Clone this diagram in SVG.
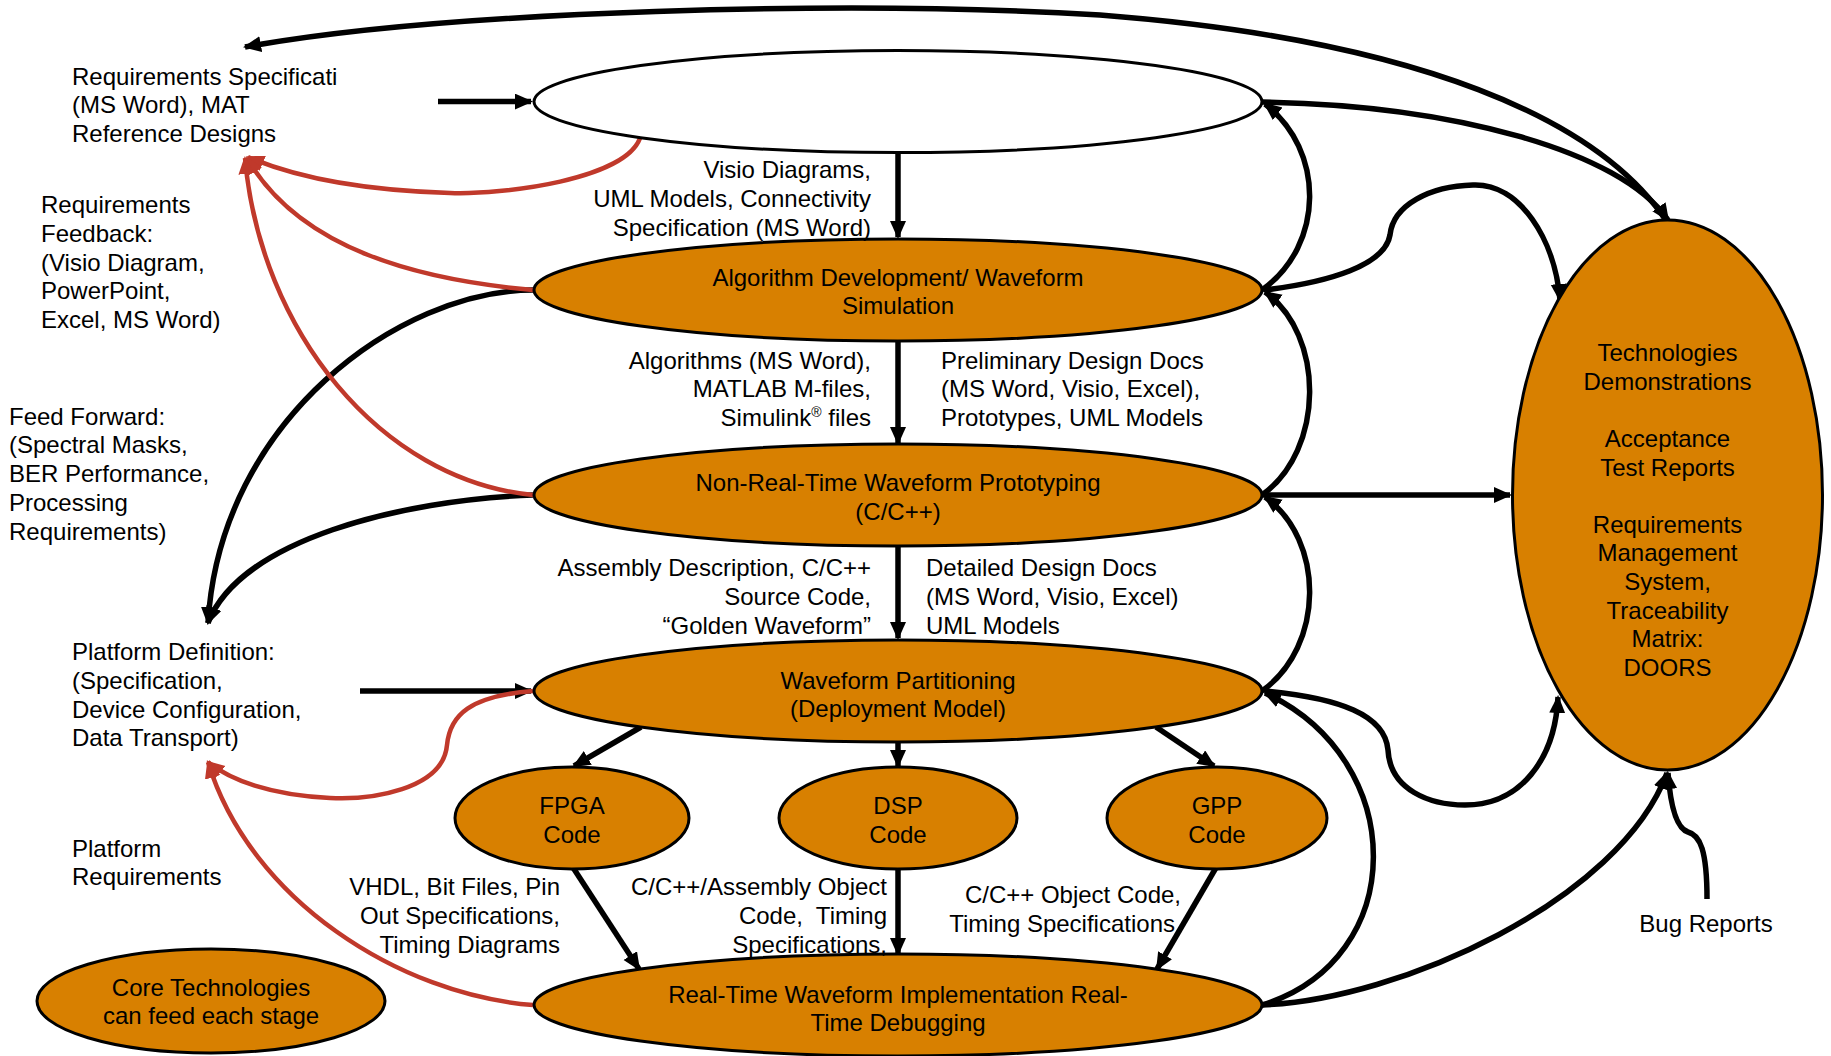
<svg xmlns="http://www.w3.org/2000/svg" width="1831" height="1056" viewBox="0 0 1831 1056">
<defs>
<style>
.t{font-family:"Liberation Sans",Arial,sans-serif;font-size:24px;fill:#000}
.m{text-anchor:middle}
.e{text-anchor:end}
.node{fill:#D88000;stroke:#000;stroke-width:3}
.wnode{fill:#fff;stroke:#000;stroke-width:3}
.c{fill:none;stroke:#000;stroke-width:5.5;marker-end:url(#ab)}
.r{fill:none;stroke:#C0392B;stroke-width:4.5;marker-end:url(#ar)}
</style>
<marker id="ab" markerUnits="userSpaceOnUse" markerWidth="20" markerHeight="18" refX="16" refY="8" orient="auto-start-reverse">
<path d="M0,0 L18,8 L0,16 z" fill="#000"/>
</marker>
<marker id="ar" markerUnits="userSpaceOnUse" markerWidth="20" markerHeight="18" refX="16" refY="8" orient="auto">
<path d="M0,0 L18,8 L0,16 z" fill="#C0392B"/>
</marker>
</defs>
<rect width="1831" height="1056" fill="#fff"/>

<g id="connectors">
<path class="c" d="M1667 222 C1600 120 1420 40 1100 15 C850 0 450 10 245 47"/>
<path class="c" d="M1262 102 C1450 105 1620 150 1668 220"/>
<path class="c" d="M438 101.6 L531 101.6"/>
<path class="c" d="M898 147 L898 237"/>
<path class="c" d="M898 339 L898 443"/>
<path class="c" d="M898 546 L898 638"/>
<path class="c" d="M898 738 L898 766"/>
<path class="c" d="M898 866 L898 954"/>
<path class="c" d="M641 727 L574 766"/>
<path class="c" d="M1156 727 L1214 766"/>
<path class="c" d="M572 866 L639 969"/>
<path class="c" d="M1217 866 L1157 969"/>
<path class="c" d="M1262 290 C1325 245 1325 150 1265 104"/>
<path class="c" d="M1262 495 C1325 450 1325 335 1265 292"/>
<path class="c" d="M1262 691 C1325 646 1325 540 1265 497"/>
<path class="c" d="M1262 1005 C1410 960 1410 760 1265 693"/>
<path class="c" d="M1265 290 C1330 282 1385 265 1390 235 C1393 205 1430 186 1473 185 C1520 183 1555 240 1560 300"/>
<path class="c" d="M1262 495 L1510 495"/>
<path class="c" d="M1265 691 C1340 698 1385 715 1388 750 C1390 790 1430 805 1465 805 C1520 805 1555 760 1558 697"/>
<path class="c" d="M1262 1005 C1400 1000 1620 900 1667 773"/>
<path class="c" d="M1707 899 C1707 850 1700 835 1688 832 C1675 828 1670 800 1668 773"/>
<path class="c" d="M533 290 C400 290 220 420 208 623"/>
<path class="c" d="M533 495 C400 500 240 540 208 623"/>
<path class="c" d="M360 691 L531 691"/>
<path class="r" d="M641 135 C630 180 500 195 450 193 C350 190 290 175 248 157"/>
<path class="r" d="M533 290 C420 280 300 250 247 158"/>
<path class="r" d="M533 495 C380 480 260 330 245 158"/>
<path class="r" d="M533 691 C470 696 450 715 447 745 C443 790 370 800 330 798 C270 795 230 780 208 762"/>
<path class="r" d="M533 1005 C400 995 250 900 208 762"/>
</g>

<g id="req-spec"><text class="t" x="72" y="84.5">Requirements Specificati</text><text class="t" x="72" y="113.3">(MS Word), MAT</text><text class="t" x="72" y="142.1">Reference Designs</text></g>
<g id="req-feedback"><text class="t" x="41" y="213">Requirements</text><text class="t" x="41" y="241.8">Feedback:</text><text class="t" x="41" y="270.6">(Visio Diagram,</text><text class="t" x="41" y="299.4">PowerPoint,</text><text class="t" x="41" y="328.2">Excel, MS Word)</text></g>
<g id="feed-forward"><text class="t" x="9" y="424.5">Feed Forward:</text><text class="t" x="9" y="453.3">(Spectral Masks,</text><text class="t" x="9" y="482.1">BER Performance,</text><text class="t" x="9" y="510.9">Processing</text><text class="t" x="9" y="539.7">Requirements)</text></g>
<g id="platform-def"><text class="t" x="72" y="660">Platform Definition:</text><text class="t" x="72" y="688.8">(Specification,</text><text class="t" x="72" y="717.6">Device Configuration,</text><text class="t" x="72" y="746.4">Data Transport)</text></g>
<g id="platform-req"><text class="t" x="72" y="856.5">Platform</text><text class="t" x="72" y="885.3">Requirements</text></g>

<g id="top-node"><ellipse class="wnode" cx="898" cy="101.6" rx="364" ry="51"/></g>
<g id="algo-node"><ellipse class="node" cx="898" cy="290" rx="364" ry="51"/><text class="t m" x="898" y="285.5">Algorithm Development/ Waveform</text><text class="t m" x="898" y="314.3">Simulation</text></g>
<g id="nrt-node"><ellipse class="node" cx="898" cy="495" rx="364" ry="51"/><text class="t m" x="898" y="491">Non-Real-Time Waveform Prototyping</text><text class="t m" x="898" y="519.8">(C/C++)</text></g>
<g id="wp-node"><ellipse class="node" cx="898" cy="691" rx="364" ry="51"/><text class="t m" x="898" y="688.5">Waveform Partitioning</text><text class="t m" x="898" y="717.3">(Deployment Model)</text></g>
<g id="fpga-node"><ellipse class="node" cx="572" cy="818" rx="117" ry="51"/><text class="t m" x="572" y="813.8">FPGA</text><text class="t m" x="572" y="842.6">Code</text></g>
<g id="dsp-node"><ellipse class="node" cx="898" cy="818" rx="119" ry="51"/><text class="t m" x="898" y="813.8">DSP</text><text class="t m" x="898" y="842.6">Code</text></g>
<g id="gpp-node"><ellipse class="node" cx="1217" cy="818" rx="110" ry="51"/><text class="t m" x="1217" y="813.8">GPP</text><text class="t m" x="1217" y="842.6">Code</text></g>
<g id="rt-node"><ellipse class="node" cx="898" cy="1005" rx="364" ry="51"/><text class="t m" x="898" y="1002.5">Real-Time Waveform Implementation Real-</text><text class="t m" x="898" y="1031.3">Time Debugging</text></g>
<g id="core-node"><ellipse class="node" cx="211" cy="1001" rx="174" ry="52"/><text class="t m" x="211" y="995.5">Core Technologies</text><text class="t m" x="211" y="1024.3">can feed each stage</text></g>
<g id="right-node"><ellipse class="node" cx="1667.5" cy="495" rx="155" ry="275"/>
<text class="t m" x="1667.5" y="361.2">Technologies</text><text class="t m" x="1667.5" y="389.8">Demonstrations</text>
<text class="t m" x="1667.5" y="447">Acceptance</text><text class="t m" x="1667.5" y="475.6">Test Reports</text>
<text class="t m" x="1667.5" y="532.8">Requirements</text><text class="t m" x="1667.5" y="561.4">Management</text><text class="t m" x="1667.5" y="590">System,</text><text class="t m" x="1667.5" y="618.6">Traceability</text><text class="t m" x="1667.5" y="647.2">Matrix:</text><text class="t m" x="1667.5" y="675.8">DOORS</text></g>

<g id="labels">
<text class="t e" x="871" y="178">Visio Diagrams,</text><text class="t e" x="871" y="206.8">UML Models, Connectivity</text><text class="t e" x="871" y="235.6">Specification (MS Word)</text>
<text class="t e" x="871" y="368.5">Algorithms (MS Word),</text><text class="t e" x="871" y="397.3">MATLAB M-files,</text><text class="t e" x="871" y="426.1">Simulink<tspan font-size="14" dy="-9">®</tspan><tspan dy="9"> files</tspan></text>
<text class="t" x="941" y="368.5">Preliminary Design Docs</text><text class="t" x="941" y="397.3">(MS Word, Visio, Excel),</text><text class="t" x="941" y="426.1">Prototypes, UML Models</text>
<text class="t e" x="871" y="576.2">Assembly Description, C/C++</text><text class="t e" x="871" y="605">Source Code,</text><text class="t e" x="871" y="633.8">“Golden Waveform”</text>
<text class="t" x="926" y="576.2">Detailed Design Docs</text><text class="t" x="926" y="605">(MS Word, Visio, Excel)</text><text class="t" x="926" y="633.8">UML Models</text>
<text class="t e" x="560" y="895">VHDL, Bit Files, Pin</text><text class="t e" x="560" y="923.8">Out Specifications,</text><text class="t e" x="560" y="952.6">Timing Diagrams</text>
<text class="t e" x="887" y="895">C/C++/Assembly Object</text><text class="t e" x="887" y="923.8" xml:space="preserve">Code,  Timing</text><text class="t e" x="887" y="952.6">Specifications,</text>
<text class="t e" x="1181" y="903">C/C++ Object Code,</text><text class="t e" x="1175" y="931.8">Timing Specifications</text>
<text class="t m" x="1706" y="932">Bug Reports</text>
</g>
</svg>
